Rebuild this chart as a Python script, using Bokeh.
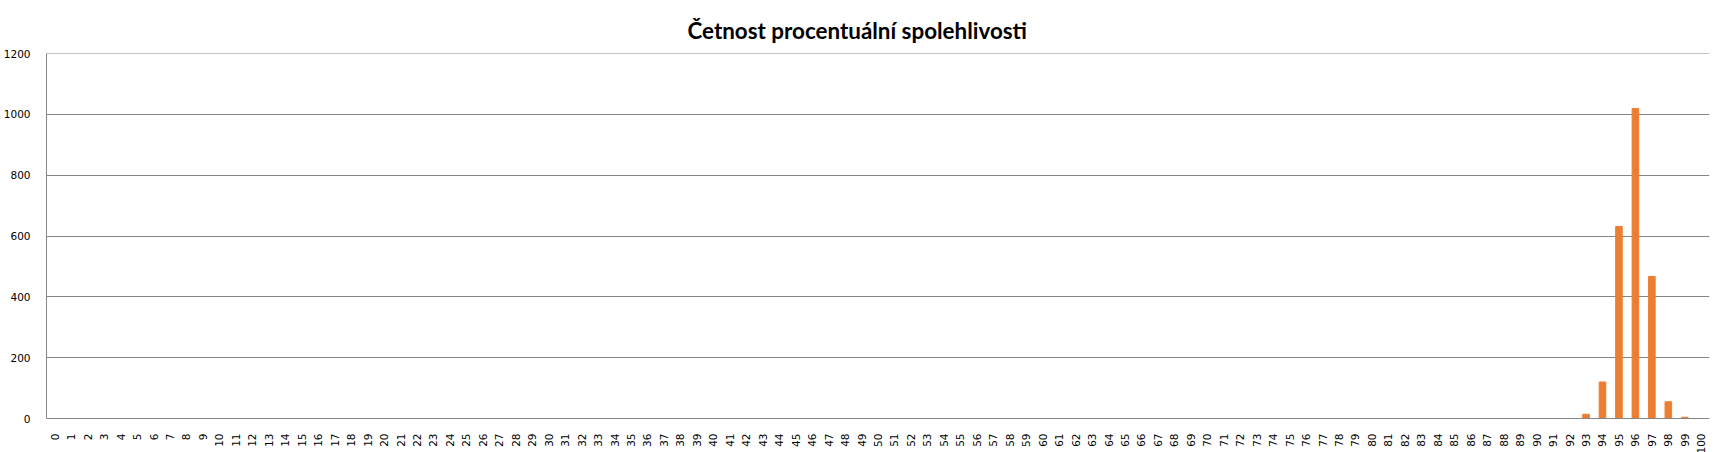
from bokeh.plotting import figure
from bokeh.models import FactorRange, FixedTicker, Title, Span
from bokeh.embed import file_html
from bokeh.resources import INLINE
import math

categories = [str(i) for i in range(101)]
counts = [0] * 93 + [14, 120, 631, 1019, 467, 55, 4, 0]
y_ticks = [0, 200, 400, 600, 800, 1000, 1200]
title_text = "Četnost procentuální spolehlivosti"

p = figure(x_range=FactorRange(factors=categories, range_padding=0),
           y_range=(0, 1200),
           frame_width=1663, frame_height=365,
           output_backend="svg", toolbar_location=None,
           min_border_left=36, min_border_right=2, min_border_top=53, min_border_bottom=20)

p.vbar(x=categories, top=counts, width=0.4, color="#ED7D31")

p.add_layout(Span(location=1200, dimension="width", line_color="#868686", line_width=1))

t = Title(text=title_text, align="left", offset=641, standoff=19, text_font="Lato",
          text_font_size="22.4px", text_font_style="bold", text_color="black")
p.add_layout(t, "above")

p.outline_line_color = None
p.xgrid.grid_line_color = None
p.ygrid.grid_line_color = "#868686"
p.ygrid.grid_line_width = 1
p.yaxis.ticker = FixedTicker(ticks=y_ticks)
p.yaxis.minor_tick_line_color = None
p.yaxis.major_tick_line_color = None
p.xaxis.major_tick_line_color = None
p.xaxis.minor_tick_line_color = None
for ax in (p.xaxis, p.yaxis):
    ax.axis_line_color = "#868686"
    ax.major_label_text_font = "DejaVu Sans"
    ax.major_label_text_font_size = "10.5px"
    ax.major_label_text_color = "black"
p.yaxis.major_label_standoff = 10
p.xaxis.major_label_standoff = 9
p.xaxis.major_label_orientation = math.pi / 2

open("out.html", "w").write(file_html(p, INLINE))
